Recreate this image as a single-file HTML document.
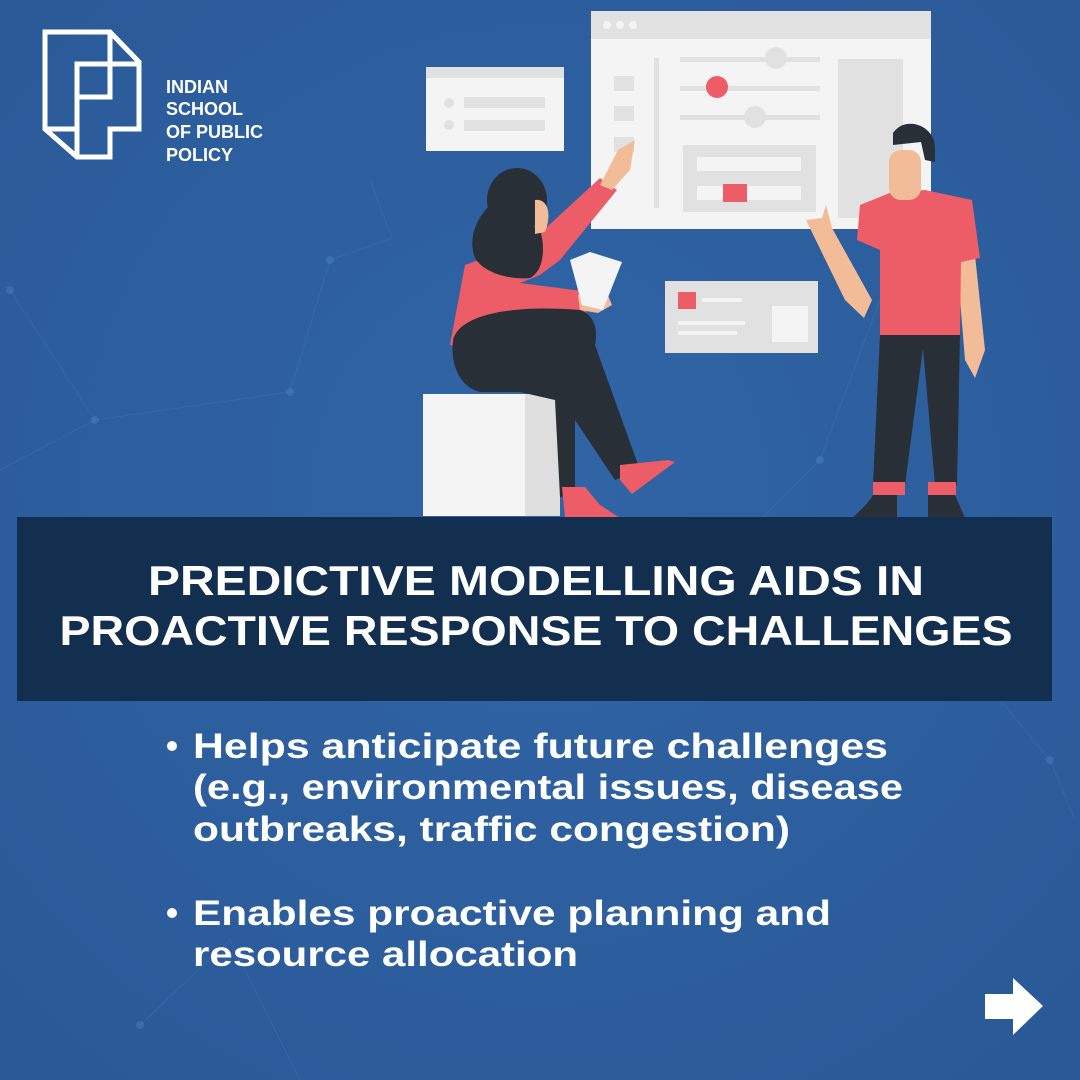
<!DOCTYPE html>
<html><head><meta charset="utf-8"><style>
html,body{margin:0;padding:0;width:1080px;height:1080px;overflow:hidden;background:#2c5d9c}
svg{display:block}
text{font-family:"Liberation Sans",sans-serif;font-weight:bold;fill:#fff}
</style></head><body>
<svg width="1080" height="1080" viewBox="0 0 1080 1080" xmlns="http://www.w3.org/2000/svg">
<defs>
<radialGradient id="bg" cx="50%" cy="45%" r="75%">
<stop offset="0" stop-color="#3065a6"/><stop offset="1" stop-color="#2a5896"/>
</radialGradient>
</defs>
<rect width="1080" height="1080" fill="url(#bg)"/>
<g stroke="#4a84c4" stroke-width="1" opacity="0.25" fill="none">
<path d="M10 290 L95 420 L290 392 L330 260 L392 238 L370 180"/>
<path d="M95 420 L0 470"/>
<path d="M820 460 L760 520"/>
<path d="M1000 700 L1050 760 L1075 820"/>
<path d="M140 1025 L230 940 L300 1080"/>
<path d="M880 300 L820 460"/>
</g>
<g fill="#5a95d6" opacity="0.3">
<circle cx="95" cy="420" r="4"/><circle cx="290" cy="392" r="4"/><circle cx="330" cy="260" r="4"/><circle cx="10" cy="290" r="4"/><circle cx="140" cy="1025" r="4"/><circle cx="1050" cy="760" r="4"/><circle cx="820" cy="460" r="4"/>
</g>
<!-- logo -->
<g fill="none" stroke="#fff" stroke-width="5" stroke-linejoin="miter">
<path d="M45 32 L110 32 L139 62 L139 129 L110 129 L110 157 L77 157 L45 129 Z"/>
<path d="M110 32 L110 97 L77 97 L77 157"/>
<path d="M77 97 L77 64 L139 64"/>
<path d="M45 129 L77 129"/>
</g>
<text x="166" y="93" font-size="18">INDIAN</text>
<text x="166" y="115" font-size="18">SCHOOL</text>
<text x="166" y="138" font-size="18">OF PUBLIC</text>
<text x="166" y="161" font-size="18">POLICY</text>
<!-- main window -->
<rect x="591" y="11" width="340" height="218" fill="#f4f4f4"/>
<rect x="591" y="11" width="340" height="28" fill="#e1e1e1"/>
<circle cx="607" cy="25" r="4" fill="#f4f4f4"/><circle cx="620" cy="25" r="4" fill="#f4f4f4"/><circle cx="633" cy="25" r="4" fill="#f4f4f4"/>
<rect x="614" y="76" width="20" height="15" fill="#e1e1e1"/>
<rect x="614" y="106" width="20" height="15" fill="#e1e1e1"/>
<rect x="614" y="137" width="20" height="15" fill="#e1e1e1"/>
<rect x="654" y="58" width="5" height="150" fill="#e1e1e1"/>
<rect x="680" y="57" width="140" height="5" fill="#e1e1e1"/>
<rect x="680" y="86" width="140" height="5" fill="#e1e1e1"/>
<rect x="680" y="115" width="140" height="5" fill="#e1e1e1"/>
<circle cx="776" cy="58" r="11" fill="#e1e1e1"/>
<circle cx="717" cy="87" r="11" fill="#ec5d67"/>
<circle cx="755" cy="117" r="11" fill="#e1e1e1"/>
<rect x="683" y="145" width="133" height="67" fill="#e1e1e1"/>
<rect x="697" y="157" width="104" height="14" fill="#f4f4f4"/>
<rect x="697" y="186" width="104" height="14" fill="#f4f4f4"/>
<rect x="723" y="184" width="24" height="18" fill="#ec5d67"/>
<rect x="838" y="59" width="65" height="159" fill="#e1e1e1"/>
<!-- left small window -->
<rect x="426" y="67" width="138" height="84" fill="#f4f4f4"/>
<rect x="426" y="67" width="138" height="11" fill="#e1e1e1"/>
<circle cx="449" cy="103" r="5" fill="#e1e1e1"/><circle cx="449" cy="125" r="5" fill="#e1e1e1"/>
<rect x="464" y="97" width="81" height="11" fill="#e1e1e1"/>
<rect x="464" y="120" width="81" height="11" fill="#e1e1e1"/>
<!-- bottom window -->
<rect x="665" y="281" width="153" height="72" fill="#e1e1e1"/>
<rect x="678" y="292" width="18" height="17" fill="#ec5d67"/>
<rect x="702" y="298" width="40" height="4" fill="#f4f4f4"/>
<rect x="678" y="321" width="67" height="4" fill="#f4f4f4"/>
<rect x="678" y="331" width="59" height="4" fill="#f4f4f4"/>
<rect x="772" y="306" width="36" height="36" fill="#f4f4f4"/>
<!-- box -->
<rect x="423" y="394" width="137" height="122" fill="#f4f4f4"/>
<rect x="525" y="394" width="35" height="122" fill="#dedede"/>
<!-- woman -->
<path d="M450 345 L465 265 L500 252 L535 238 L600 178 L617 190 L560 260 L540 275 L520 283 L590 292 L585 318 L520 325 L480 350 Z" fill="#ec5d67"/>
<path d="M600 185 L618 150 L635 140 L630 170 L612 190 Z" fill="#f3bc98"/>
<path d="M578 295 L605 288 L612 305 L598 313 L580 310 Z" fill="#f3bc98"/>
<path d="M570 260 L590 252 L622 262 L603 310 L582 305 Z" fill="#f4f4f4"/>
<path d="M453 340 C460 312 520 305 580 310 C595 315 598 330 595 345 L640 470 L615 480 L575 420 L575 495 L560 497 L555 400 L520 392 L480 392 C460 387 450 365 453 340 Z" fill="#282f36"/>
<path d="M620 465 L668 460 L675 462 L632 494 L620 480 Z" fill="#ec5d67"/>
<path d="M562 487 L585 487 L600 505 L620 518 L565 518 Z" fill="#ec5d67"/>
<ellipse cx="517" cy="200" rx="30" ry="32" fill="#282f36"/>
<path d="M490 205 C475 220 468 240 475 258 C485 275 515 280 530 278 C545 270 545 245 540 230 Z" fill="#282f36"/>
<path d="M535 200 C548 198 552 215 545 232 L535 234 Z" fill="#f3bc98"/>
<!-- man -->
<path d="M806 220 L822 218 L826 205 L832 228 L872 300 L864 318 L845 300 Z" fill="#f3bc98"/>
<path d="M956 250 L975 255 L985 350 L975 378 L965 360 Z" fill="#f3bc98"/>
<path d="M860 205 L892 192 L925 190 L972 200 L980 258 L961 262 L960 335 L880 336 L880 250 L857 240 Z" fill="#ec5d67"/>
<rect x="889" y="150" width="32" height="50" rx="12" fill="#f3bc98"/>
<path d="M893 133 C905 115 935 125 935 148 L935 162 L925 160 L921 142 L893 145 Z" fill="#282f36"/>
<path d="M880 335 L960 335 L957 485 L935 485 L923 348 L905 485 L873 485 Z" fill="#282f36"/>
<rect x="873" y="482" width="32" height="13" fill="#ec5d67"/>
<rect x="928" y="482" width="28" height="13" fill="#ec5d67"/>
<path d="M873 495 L897 495 L897 535 L840 535 C845 520 865 510 873 495 Z" fill="#282f36"/>
<path d="M928 495 L955 495 L968 525 L968 535 L928 535 Z" fill="#282f36"/>
<!-- banner -->
<rect x="17" y="517" width="1035" height="184" fill="#122f50"/>
<text x="536" y="595" font-size="42" text-anchor="middle" textLength="776" lengthAdjust="spacingAndGlyphs">PREDICTIVE MODELLING AIDS IN</text>
<text x="536" y="645" font-size="42" text-anchor="middle" textLength="953" lengthAdjust="spacingAndGlyphs">PROACTIVE RESPONSE TO CHALLENGES</text>
<!-- bullets -->
<circle cx="172" cy="746" r="5" fill="#fff"/>
<circle cx="172" cy="913" r="5" fill="#fff"/>
<text x="193" y="758" font-size="35" textLength="695" lengthAdjust="spacingAndGlyphs">Helps anticipate future challenges</text>
<text x="193" y="799" font-size="35" textLength="710" lengthAdjust="spacingAndGlyphs">(e.g., environmental issues, disease</text>
<text x="193" y="841" font-size="35" textLength="597" lengthAdjust="spacingAndGlyphs">outbreaks, traffic congestion)</text>
<text x="193" y="925" font-size="35" textLength="638" lengthAdjust="spacingAndGlyphs">Enables proactive planning and</text>
<text x="193" y="966" font-size="35" textLength="385" lengthAdjust="spacingAndGlyphs">resource allocation</text>
<!-- arrow -->
<path d="M985 994 L1013 994 L1013 978 L1043 1006 L1013 1035 L1013 1019 L985 1019 Z" fill="#fff"/>
</svg>
</body></html>
